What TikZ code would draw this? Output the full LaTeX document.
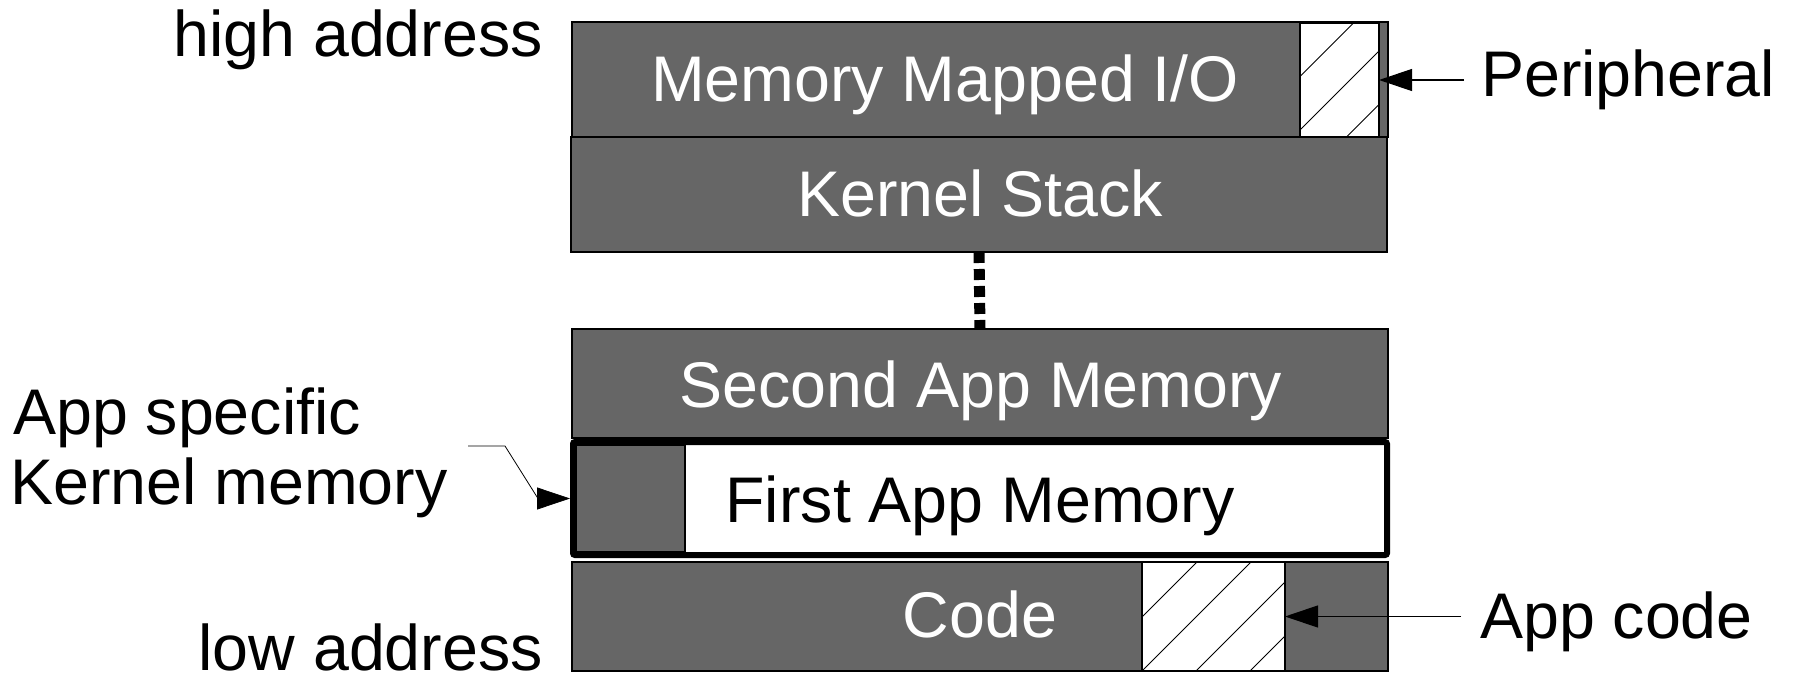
\documentclass[tikz,border=0pt]{standalone}
\usepackage{fontspec}
\setmainfont{Liberation Sans}
\usetikzlibrary{arrows.meta}
\definecolor{memgray}{HTML}{666666}
\tikzset{
  region/.style={draw=black, line width=1.2pt, fill=memgray, inner sep=0pt, outer sep=0pt},
  hatchbox/.style={draw=black, line width=1.2pt, fill=white, inner sep=0pt, outer sep=0pt},
  hatchline/.style={draw=black, line width=0.9pt},
  lbl/.style={inner sep=0pt, font=\fontsize{64.5}{66}\selectfont},
  inlbl/.style={lbl, text=white, anchor=base},
  ptr/.style={draw=black, line width=1.2pt, -{Triangle[length=33pt,width=22pt]}},
  gapline/.style={draw=black, line width=11pt, dash pattern=on 11pt off 6pt, line cap=butt}
}
\begin{document}
\begin{tikzpicture}[x=1pt, y=-1pt]
\useasboundingbox (0,0) rectangle (1795,676);

% memory regions, high address at the top
\node[region, minimum width=816pt, minimum height=115pt] (mmio) at (980,79.5) {};
\node[hatchbox, minimum width=79pt, minimum height=114pt] (periph) at (1339.5,80) {};
\node[region, minimum width=816pt, minimum height=115pt] (kstack) at (979,194.5) {};
\node[region, minimum width=816pt, minimum height=109pt] (secondapp) at (980,383.5) {};
\node[draw=black, line width=6pt, fill=white, rounded corners=2pt, inner sep=0pt,
      minimum width=814pt, minimum height=113pt] (firstapp) at (980,498.5) {};
\node[region, minimum width=109pt, minimum height=107pt] (kmem) at (630.5,498.5) {};
\node[region, minimum width=816pt, minimum height=109pt] (code) at (980,616.5) {};
\node[hatchbox, minimum width=143pt, minimum height=109pt] (apphatch) at (1213.5,616.5) {};

% diagonal hatching of the peripheral and app code areas
\begin{scope}
  \clip (periph.south west) rectangle (periph.north east);
  \foreach \k in {-1,0,1,2}
    \draw[hatchline] (1239.5+53.5*\k,137) -- ++(120,-120);
\end{scope}
\begin{scope}
  \clip (apphatch.south west) rectangle (apphatch.north east);
  \foreach \k in {-1,0,1,2,3}
    \draw[hatchline] (1142+54*\k,671) -- ++(115,-115);
\end{scope}
\draw[hatchbox, fill=none] (periph.south west) rectangle (periph.north east);
\draw[hatchbox, fill=none] (apphatch.south west) rectangle (apphatch.north east);

% region names
\node[inlbl] (mmiotext) at (945,102) {Memory Mapped I/O};
\node[inlbl] (kstacktext) at (980,217) {Kernel Stack};
\node[inlbl] (secondtext) at (981,407) {Second App Memory};
\node[inlbl, text=black] (firsttext) at (980,522) {First App Memory};
\node[inlbl] (codetext) at (980,637) {Code};

% omitted address range
\draw[gapline] (kstack.south) -- (secondapp.north);

% address labels
\node[lbl, anchor=base east] (high) at (543,57) {high address};
\node[lbl, anchor=base east] (low) at (543,670) {low address};

% callouts
\node[lbl, anchor=base west] (kmlabelA) at (13,434) {App specific};
\node[lbl, anchor=base west] (kmlabelB) at (10,504) {Kernel memory};
\node[lbl, anchor=base west] (periphlabel) at (1481,97) {Peripheral};
\node[lbl, anchor=base west] (codelabel) at (1480,638) {App code};

\coordinate (kmtail) at (468,446);
\coordinate (kmbendA) at (505,446);
\coordinate (kmbendB) at (538,498.5);
\coordinate (periphtail) at (1464,80);
\coordinate (codetail) at (1461,616.5);

\draw[ptr, line width=0.8pt] (kmtail) -- (kmbendA) -- (kmbendB) -- (firstapp.west);
\draw[ptr] (periphtail) -- (periph.east);
\draw[ptr] (codetail) -- (apphatch.east);
\end{tikzpicture}
\end{document}
